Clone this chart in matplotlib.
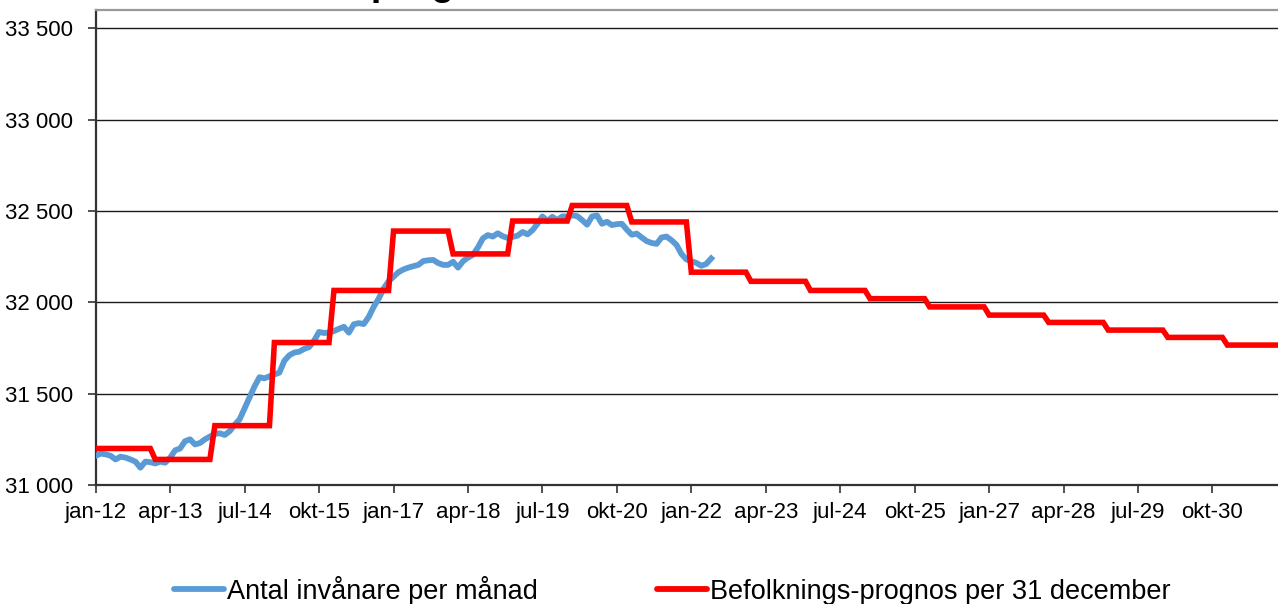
import numpy as np
import matplotlib.pyplot as plt
from matplotlib.ticker import FuncFormatter

plt.rcParams['font.family'] = ['Liberation Sans', 'DejaVu Sans']

# monthly population, jan-12 .. may-22
invanare = [31160, 31172, 31168, 31160, 31140, 31155, 31150, 31140, 31128, 31095,
            31128, 31125, 31118, 31128, 31122, 31150, 31190, 31200, 31240, 31250,
            31222, 31230, 31250, 31265, 31280, 31283, 31274, 31295, 31330, 31360,
            31420, 31480, 31540, 31590, 31584, 31595, 31605, 31615, 31680, 31710,
            31725, 31730, 31745, 31755, 31790, 31838, 31832, 31835, 31843, 31855,
            31866, 31834, 31880, 31886, 31881, 31920, 31975, 32020, 32075, 32115,
            32140, 32165, 32180, 32190, 32198, 32205, 32226, 32230, 32232, 32215,
            32205, 32205, 32222, 32190, 32225, 32245, 32260, 32300, 32350, 32368,
            32360, 32378, 32362, 32352, 32358, 32365, 32385, 32372, 32395, 32430,
            32470, 32445, 32468, 32450, 32470, 32470, 32476, 32472, 32450, 32425,
            32470, 32475, 32430, 32441, 32423, 32428, 32430, 32398, 32370, 32376,
            32355, 32335, 32325, 32320, 32355, 32360, 32340, 32315, 32265, 32235,
            32225, 32216, 32200, 32210, 32240]

# prognosis per 31 december, 2012 .. 2031
prognos_ar = list(range(2012, 2032))
prognos = [31200, 31140, 31325, 31780, 32065, 32390, 32265, 32445, 32530, 32440,
           32165, 32115, 32065, 32020, 31975, 31930, 31890, 31848, 31808, 31766]

manader = ['jan', 'feb', 'mar', 'apr', 'maj', 'jun',
           'jul', 'aug', 'sep', 'okt', 'nov', 'dec']

prognos_man = np.repeat(prognos, 12)
x_prog = np.arange(len(prognos_man))
x_inv = np.arange(len(invanare))

fig = plt.figure(figsize=(12.78, 6.04), dpi=100, facecolor='white')
ax = fig.add_axes([0.0749, 0.197, 1 - 0.0749, 0.9834 - 0.197])

ax.plot(x_inv, invanare, color='#5B9BD5', lw=4.2, solid_joinstyle='round',
        label='Antal invånare per månad', zorder=3)
ax.plot(x_prog, prognos_man, color='#FF0000', lw=4.0, solid_joinstyle='miter',
        label='Befolknings-prognos per 31 december', zorder=4)

ax.set_ylim(31000, 33600)
ax.set_xlim(0, 238.2)
ax.set_yticks(np.arange(31000, 33501, 500))
ax.yaxis.set_major_formatter(FuncFormatter(lambda v, p: f'{int(v):,}'.replace(',', ' ')))
ax.grid(axis='y', color='#1a1a1a', lw=1.0)
ax.set_axisbelow(True)

xt = np.arange(0, 239, 15)
ax.set_xticks(xt)
ax.set_xticklabels([f'{manader[m % 12]}-{(12 + m // 12) % 100:02d}' for m in xt])
ax.tick_params(axis='both', labelsize=16, length=6, width=1.2, color='#333333', direction='out')
ax.tick_params(axis='x', pad=6)
ax.tick_params(axis='y', pad=10)

for s in ['left', 'bottom']:
    ax.spines[s].set_color('#333333')
    ax.spines[s].set_linewidth(1.6)
ax.spines['top'].set_color('#999999')
ax.spines['top'].set_linewidth(1.6)
ax.spines['right'].set_visible(False)

# title sits mostly above the visible area
fig.text(521 / 1278, 1.008, 'Invånare och prognos', ha='right', va='baseline',
         fontsize=27, fontweight='bold')

leg = fig.legend(loc='center', bbox_to_anchor=(672 / 1278, 0.023), ncol=2,
                 frameon=False, fontsize=19.5, handlelength=1.85,
                 handletextpad=0.1, columnspacing=4.4, borderaxespad=0)
for line in leg.get_lines():
    line.set_linewidth(4.2)
    line.set_solid_capstyle('round')

fig.savefig('out.png', dpi=100, facecolor='white')
